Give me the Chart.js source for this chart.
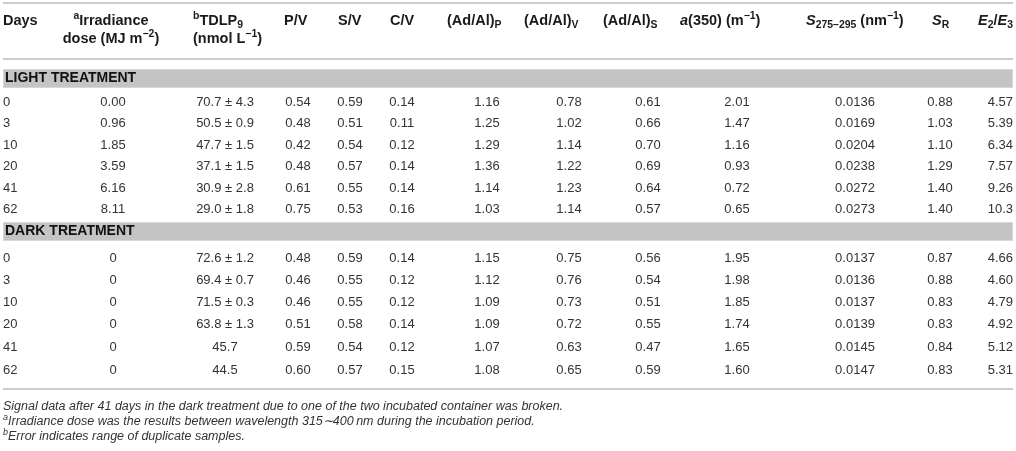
<!DOCTYPE html>
<html><head><meta charset="utf-8">
<script src="https://cdn.jsdelivr.net/npm/chart.js@4.4.1/dist/chart.umd.min.js"></script>
<style>html,body{margin:0;padding:0;background:#fff;overflow:hidden}canvas{display:block}</style>
</head><body>
<canvas id="c" width="1016" height="451"></canvas>
<script>
// ---------------- DATA ----------------
const headerLine1 = ['Days', '^{a}Irradiance', '^{b}TDLP_{9}', 'P/V', 'S/V', 'C/V', '(Ad/Al)_{P}', '(Ad/Al)_{V}', '(Ad/Al)_{S}', '*a*(350) (m^{−1})', '*S*_{275–295} (nm^{−1})', '*S*_{R}', '*E*_{2}/*E*_{3}'];
const headerLine2 = ['', 'dose (MJ m^{−2})', '(nmol L^{−1})', '', '', '', '', '', '', '', '', '', ''];
const treatments = ['LIGHT TREATMENT', 'DARK TREATMENT'];
const days = [0, 3, 10, 20, 41, 62];

const lightIrradiance = [0.00, 0.96, 1.85, 3.59, 6.16, 8.11];
const lightTDLP = [70.7, 50.5, 47.7, 37.1, 30.9, 29.0];
const lightTDLPErr = [4.3, 0.9, 1.5, 1.5, 2.8, 1.8];
const lightPV = [0.54, 0.48, 0.42, 0.48, 0.61, 0.75];
const lightSV = [0.59, 0.51, 0.54, 0.57, 0.55, 0.53];
const lightCV = [0.14, 0.11, 0.12, 0.14, 0.14, 0.16];
const lightAdAlP = [1.16, 1.25, 1.29, 1.36, 1.14, 1.03];
const lightAdAlV = [0.78, 1.02, 1.14, 1.22, 1.23, 1.14];
const lightAdAlS = [0.61, 0.66, 0.70, 0.69, 0.64, 0.57];
const lightA350 = [2.01, 1.47, 1.16, 0.93, 0.72, 0.65];
const lightS275 = [0.0136, 0.0169, 0.0204, 0.0238, 0.0272, 0.0273];
const lightSR = [0.88, 1.03, 1.10, 1.29, 1.40, 1.40];
const lightE2E3 = [4.57, 5.39, 6.34, 7.57, 9.26, 10.3];

const darkIrradiance = [0, 0, 0, 0, 0, 0];
const darkTDLP = [72.6, 69.4, 71.5, 63.8, 45.7, 44.5];
const darkTDLPErr = [1.2, 0.7, 0.3, 1.3, null, null];
const darkPV = [0.48, 0.46, 0.46, 0.51, 0.59, 0.60];
const darkSV = [0.59, 0.55, 0.55, 0.58, 0.54, 0.57];
const darkCV = [0.14, 0.12, 0.12, 0.14, 0.12, 0.15];
const darkAdAlP = [1.15, 1.12, 1.09, 1.09, 1.07, 1.08];
const darkAdAlV = [0.75, 0.76, 0.73, 0.72, 0.63, 0.65];
const darkAdAlS = [0.56, 0.54, 0.51, 0.55, 0.47, 0.59];
const darkA350 = [1.95, 1.98, 1.85, 1.74, 1.65, 1.60];
const darkS275 = [0.0137, 0.0136, 0.0137, 0.0139, 0.0145, 0.0147];
const darkSR = [0.87, 0.88, 0.83, 0.83, 0.84, 0.83];
const darkE2E3 = [4.66, 4.60, 4.79, 4.92, 5.12, 5.31];

const footnotes = [
  'Signal data after 41 days in the dark treatment due to one of the two incubated container was broken.',
  '^{a}Irradiance dose was the results between wavelength 315∼400\u2009nm during the incubation period.',
  '^{b}Error indicates range of duplicate samples.'
];

// ---------------- LAYOUT (positions in axis units) ----------------
const W = 1016, H = 451;
const LAYOUT = {
  left: 3, right: 1013,
  headerX: [3, 111, 193, 284, 338, 390, 447, 524, 603, 680, 806, 932, 1013],
  headerAlign: ['left','center','left','left','left','left','left','left','left','left','left','left','right'],
  dataX: [3, 113, 225, 298, 350, 402, 487, 569, 648, 737, 855, 940, 1013],
  dataAlign: ['left','center','center','center','center','center','center','center','center','center','center','center','right'],
  headerY: [21, 39],
  rules: [3, 59, 389],
  bands: [[69, 88], [222, 241]],
  rowY: [[102, 123.5, 145, 166.5, 188, 209.5], [258, 280, 302, 324, 347, 370]],
  footY: [407, 422, 437],
  footX: 3, bandTextX: 5
};
const FAMILY = '"Liberation Sans", Arial, Helvetica, sans-serif';
const STYLES = {
  header: {size: 14.5, weight: 'bold', italic: false, color: '#1a1a1a'},
  band: {size: 14, weight: 'bold', italic: false, color: '#111'},
  data: {size: 13, weight: 'normal', italic: false, color: '#333'},
  foot: {size: 12.5, weight: 'normal', italic: true, color: '#333'}
};

// ---------------- BUILD CELLS ----------------
const f2 = v => v.toFixed(2);
const sets = [
  {irr: lightIrradiance, irrDec: 2, tdlp: lightTDLP, err: lightTDLPErr, cols: [lightPV, lightSV, lightCV, lightAdAlP, lightAdAlV, lightAdAlS, lightA350], s275: lightS275, sr: lightSR, e: lightE2E3},
  {irr: darkIrradiance, irrDec: 0, tdlp: darkTDLP, err: darkTDLPErr, cols: [darkPV, darkSV, darkCV, darkAdAlP, darkAdAlV, darkAdAlS, darkA350], s275: darkS275, sr: darkSR, e: darkE2E3}
];
const cells = [];
headerLine1.forEach((t, c) => cells.push({x: LAYOUT.headerX[c], y: LAYOUT.headerY[0], label: t, align: LAYOUT.headerAlign[c], style: 'header'}));
headerLine2.forEach((t, c) => { if (t) cells.push({x: LAYOUT.headerX[c], y: LAYOUT.headerY[1], label: t, align: LAYOUT.headerAlign[c], style: 'header'}); });
sets.forEach((s, t) => {
  const b = LAYOUT.bands[t];
  cells.push({x: LAYOUT.bandTextX, y: (b[0] + b[1]) / 2, label: treatments[t], align: 'left', style: 'band'});
  days.forEach((d, i) => {
    const vals = [String(d), s.irr[i].toFixed(s.irrDec),
      s.tdlp[i].toFixed(1) + (s.err[i] != null ? ' ± ' + s.err[i].toFixed(1) : '')]
      .concat(s.cols.map(a => f2(a[i])))
      .concat([s.s275[i].toFixed(4), f2(s.sr[i]), s.e[i].toPrecision(3)]);
    vals.forEach((v, c) => cells.push({x: LAYOUT.dataX[c], y: LAYOUT.rowY[t][i], label: v, align: LAYOUT.dataAlign[c], style: 'data'}));
  });
});
footnotes.forEach((t, i) => cells.push({x: LAYOUT.footX, y: LAYOUT.footY[i], label: t, align: 'left', style: 'foot'}));

// ---------------- RICH TEXT ----------------
function parseRich(s) {
  const segs = []; let it = false, buf = '', i = 0;
  const push = (t, mode) => { if (t) segs.push({t, mode, it}); };
  while (i < s.length) {
    const ch = s[i];
    if (ch === '*') { push(buf, 'n'); buf = ''; it = !it; i++; continue; }
    if ((ch === '^' || ch === '_') && s[i + 1] === '{') {
      push(buf, 'n'); buf = '';
      const j = s.indexOf('}', i + 2);
      push(s.slice(i + 2, j), ch === '^' ? 'sup' : 'sub');
      i = j + 1; continue;
    }
    buf += ch; i++;
  }
  push(buf, 'n');
  return segs;
}
function drawRich(ctx, text, x, y, align, st) {
  const segs = parseRich(text);
  const fontOf = sg => {
    const sz = sg.mode === 'n' ? st.size : st.size * 0.72;
    return ((st.italic || sg.it) ? 'italic ' : '') + st.weight + ' ' + sz + 'px ' + FAMILY;
  };
  let total = 0;
  segs.forEach(sg => { ctx.font = fontOf(sg); sg.w = ctx.measureText(sg.t).width; total += sg.w; });
  let cx = align === 'left' ? x : align === 'right' ? x - total : x - total / 2;
  ctx.textBaseline = 'middle'; ctx.textAlign = 'left'; ctx.fillStyle = st.color;
  segs.forEach(sg => {
    ctx.font = fontOf(sg);
    const dy = sg.mode === 'sup' ? -st.size * 0.36 : sg.mode === 'sub' ? st.size * 0.3 : 0;
    ctx.fillText(sg.t, cx, y + dy);
    cx += sg.w;
  });
}

// ---------------- PLUGIN ----------------
const tablePlugin = {
  id: 'tableDraw',
  beforeDatasetsDraw(chart) {
    const {ctx, scales: {x, y}} = chart;
    ctx.save();
    const x0 = x.getPixelForValue(LAYOUT.left), x1 = x.getPixelForValue(LAYOUT.right);
    LAYOUT.bands.forEach(b => {
      const y0 = y.getPixelForValue(b[0]), y1 = y.getPixelForValue(b[1]);
      ctx.fillStyle = '#c4c4c4';
      ctx.fillRect(x0, y0, x1 - x0, y1 - y0);
      ctx.strokeStyle = '#d8d8d8'; ctx.lineWidth = 1;
      ctx.strokeRect(x0 + 0.5, y0 + 0.5, x1 - x0 - 1, y1 - y0 - 1);
    });
    ctx.strokeStyle = '#bdbdbd'; ctx.lineWidth = 1.5;
    LAYOUT.rules.forEach(r => {
      const py = y.getPixelForValue(r);
      ctx.beginPath(); ctx.moveTo(x0, py); ctx.lineTo(x1, py); ctx.stroke();
    });
    ctx.restore();
  },
  afterDatasetsDraw(chart) {
    const ctx = chart.ctx;
    ctx.save();
    chart.data.datasets.forEach((ds, di) => {
      const meta = chart.getDatasetMeta(di);
      meta.data.forEach((el, i) => {
        const raw = ds.data[i];
        drawRich(ctx, raw.label, el.x, el.y, raw.align, STYLES[raw.style]);
      });
    });
    ctx.restore();
  }
};

new Chart(document.getElementById('c'), {
  type: 'scatter',
  data: {datasets: [{data: cells, pointRadius: 0, pointHoverRadius: 0}]},
  options: {
    responsive: false, animation: false, events: [],
    layout: {padding: 0},
    plugins: {legend: {display: false}, tooltip: {enabled: false}},
    scales: {
      x: {type: 'linear', min: 0, max: W, display: false},
      y: {type: 'linear', min: 0, max: H, reverse: true, display: false}
    }
  },
  plugins: [tablePlugin]
});
</script>
</body></html>
